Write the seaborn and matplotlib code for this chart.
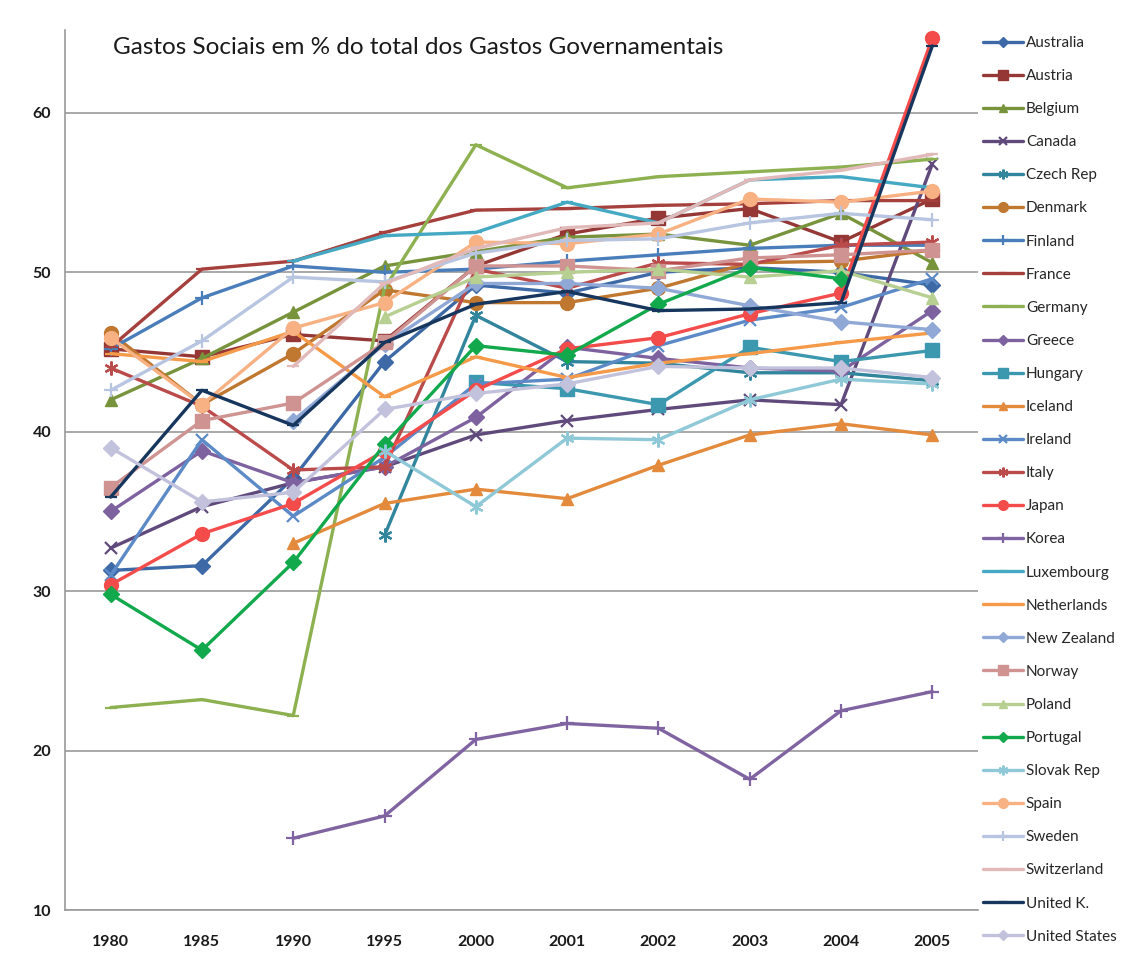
import numpy as np
import pandas as pd
import matplotlib
matplotlib.use("Agg")
import matplotlib.pyplot as plt
import seaborn as sns

nan = np.nan

years = ["1980", "1985", "1990", "1995", "2000", "2001", "2002", "2003", "2004", "2005"]

countries = ["Australia", "Austria", "Belgium", "Canada", "Czech Rep", "Denmark", "Finland",
             "France", "Germany", "Greece", "Hungary", "Iceland", "Ireland", "Italy", "Japan",
             "Korea", "Luxembourg", "Netherlands", "New Zealand", "Norway", "Poland", "Portugal",
             "Slovak Rep", "Spain", "Sweden", "Switzerland", "United K.", "United States"]

australia = [31.3, 31.6, 37.1, 44.4, 49.2, 48.7, 50.0, 50.3, 50.0, 49.2]
austria = [45.2, 44.7, 46.1, 45.7, 50.4, 52.4, 53.4, 54.0, 51.9, 54.6]
belgium = [42.0, 44.6, 47.5, 50.4, 51.3, 52.2, 52.4, 51.7, 53.7, 50.6]
canada = [32.7, 35.3, 36.8, 37.8, 39.8, 40.7, 41.4, 42.0, 41.7, 56.8]
czech_rep = [nan, nan, nan, 33.5, 47.3, 44.4, 44.3, 43.7, 43.7, 43.2]
denmark = [46.2, 41.7, 44.9, 48.9, 48.1, 48.1, 49.0, 50.6, 50.7, 51.4]
finland = [45.2, 48.4, 50.4, 50.0, 50.2, 50.7, 51.1, 51.5, 51.7, 51.7]
france = [45.3, 50.2, 50.7, 52.5, 53.9, 54.0, 54.2, 54.3, 54.5, 54.5]
germany = [22.7, 23.2, 22.2, 49.0, 58.0, 55.3, 56.0, 56.3, 56.6, 57.1]
greece = [35.0, 38.8, 36.8, 37.8, 40.9, 45.3, 44.6, 44.0, 43.8, 47.6]
hungary = [nan, nan, nan, nan, 43.1, 42.7, 41.7, 45.3, 44.4, 45.1]
iceland = [nan, nan, 33.0, 35.5, 36.4, 35.8, 37.9, 39.8, 40.5, 39.8]
ireland = [31.0, 39.5, 34.7, 38.4, 43.0, 43.3, 45.4, 47.0, 47.8, 49.6]
italy = [44.0, 41.6, 37.6, 37.8, 50.2, 49.0, 50.6, 50.5, 51.7, 51.9]
japan = [30.4, 33.6, 35.5, 38.8, 42.6, 45.2, 45.9, 47.4, 48.7, 64.7]
korea = [nan, nan, 14.5, 15.9, 20.7, 21.7, 21.4, 18.2, 22.5, 23.7]
luxembourg = [nan, nan, 50.7, 52.3, 52.5, 54.4, 53.1, 55.8, 56.0, 55.3]
netherlands = [44.9, 44.4, 46.3, 42.2, 44.7, 43.4, 44.3, 44.9, 45.6, 46.2]
new_zealand = [nan, nan, 40.7, 45.5, 49.3, 49.3, 49.0, 47.9, 46.9, 46.4]
norway = [36.5, 40.7, 41.8, 45.6, 50.4, 50.4, 50.1, 50.9, 51.1, 51.4]
poland = [nan, nan, nan, 47.2, 49.7, 50.0, 50.2, 49.7, 50.1, 48.4]
portugal = [29.8, 26.3, 31.8, 39.2, 45.4, 44.8, 48.0, 50.3, 49.6, nan]
slovak_rep = [nan, nan, nan, 38.8, 35.3, 39.6, 39.5, 42.0, 43.3, 43.0]
spain = [45.9, 41.7, 46.5, 48.1, 51.9, 51.8, 52.4, 54.6, 54.4, 55.1]
sweden = [42.6, 45.7, 49.7, 49.4, 51.2, 52.0, 52.1, 53.1, 53.7, 53.3]
switzerland = [nan, nan, 44.1, 49.3, 51.5, 52.8, 53.1, 55.8, 56.4, 57.4]
united_k = [35.9, 42.6, 40.4, 45.6, 48.0, 48.8, 47.6, 47.7, 48.1, 64.2]
united_states = [39.0, 35.6, 36.2, 41.4, 42.4, 43.0, 44.1, 44.0, 44.0, 43.4]

series = [australia, austria, belgium, canada, czech_rep, denmark, finland, france, germany,
          greece, hungary, iceland, ireland, italy, japan, korea, luxembourg, netherlands,
          new_zealand, norway, poland, portugal, slovak_rep, spain, sweden, switzerland,
          united_k, united_states]

colors = ["#3D69A6", "#953735", "#77933C", "#604A7B", "#31859C", "#C0772F", "#4A7EBB",
          "#A5403D", "#8DB050", "#7E62A0", "#3B98AE", "#E38A3C", "#5C8AC7", "#BB4B4B",
          "#F44B4B", "#8064A2", "#45A9C3", "#F49A48", "#8FA8D6", "#CF9392", "#B7CF91",
          "#12A84C", "#8FC8D6", "#F7B183", "#B8C5E0", "#E1B9B9", "#17365D", "#C3C2DC"]

asterisk = (6, 2, 0)
markers = ["D", "s", "^", "x", asterisk, "o", "+", "_", "_", "D", "s", "^", "x", asterisk,
           "o", "+", "_", "_", "D", "s", "^", "D", asterisk, "o", "+", "_", "_", "D"]
marker_sizes = {"D": 8, "s": 9.5, "^": 9, "x": 9, "o": 10, "+": 10, "_": 9}

rows = []
for name, vals in zip(countries, series):
    for i, (yr, v) in enumerate(zip(years, vals)):
        rows.append({"country": name, "pos": i, "year": yr, "value": v})
df = pd.DataFrame(rows)

sns.set_theme(style="white")
plt.rcParams["font.family"] = ["Lato", "DejaVu Sans"]

fig = plt.figure(figsize=(11.29, 9.64), dpi=100)
ax = fig.add_axes([65 / 1129, 1 - 910 / 964, 913 / 1129, 880 / 964])

for name, col, mk in zip(countries, colors, markers):
    sub = df[df["country"] == name].dropna(subset=["value"])
    ms = marker_sizes.get(mk, 9) if isinstance(mk, str) else 10
    mew = 1.6 if mk in ("x", "+", "_") or not isinstance(mk, str) else 1.0
    sns.lineplot(data=sub, x="pos", y="value", ax=ax, color=col, marker=mk,
                 markersize=ms, markeredgecolor=col, markeredgewidth=mew,
                 linewidth=2.4, label=name, sort=False, estimator=None)

ax.set_xlim(-0.5, 9.5)
ax.set_ylim(10, 65.2)
ax.set_xticks(range(len(years)))
ax.set_xticklabels(years)
ax.set_yticks([10, 20, 30, 40, 50, 60])
ax.set_xlabel("")
ax.set_ylabel("")
ax.tick_params(axis="both", length=0, labelsize=11.5, colors="#1a1a1a")
for lab in ax.get_xticklabels() + ax.get_yticklabels():
    lab.set_fontweight("bold")
ax.tick_params(axis="x", pad=18)
ax.tick_params(axis="y", pad=10)

ax.yaxis.grid(True, color="#9a9a9a", linewidth=1.2)
ax.xaxis.grid(False)
ax.set_axisbelow(True)
for side in ("top", "right"):
    ax.spines[side].set_visible(False)
for side in ("left", "bottom"):
    ax.spines[side].set_color("#9a9a9a")
    ax.spines[side].set_linewidth(1.2)

ax.text(0.0526, 0.98, "Gastos Sociais em % do total dos Gastos Governamentais",
        transform=ax.transAxes, ha="left", va="center", fontsize=17.5, color="#1a1a1a")

leg = ax.legend(loc="upper left", bbox_to_anchor=(983 / 1129, 1 - 36 / 964),
                bbox_transform=fig.transFigure, frameon=False, fontsize=11,
                handlelength=2.6, handletextpad=0.2, labelspacing=1.25,
                borderaxespad=0, borderpad=0, markerscale=0.7)

fig.savefig("out.png", dpi=100, facecolor="white")
